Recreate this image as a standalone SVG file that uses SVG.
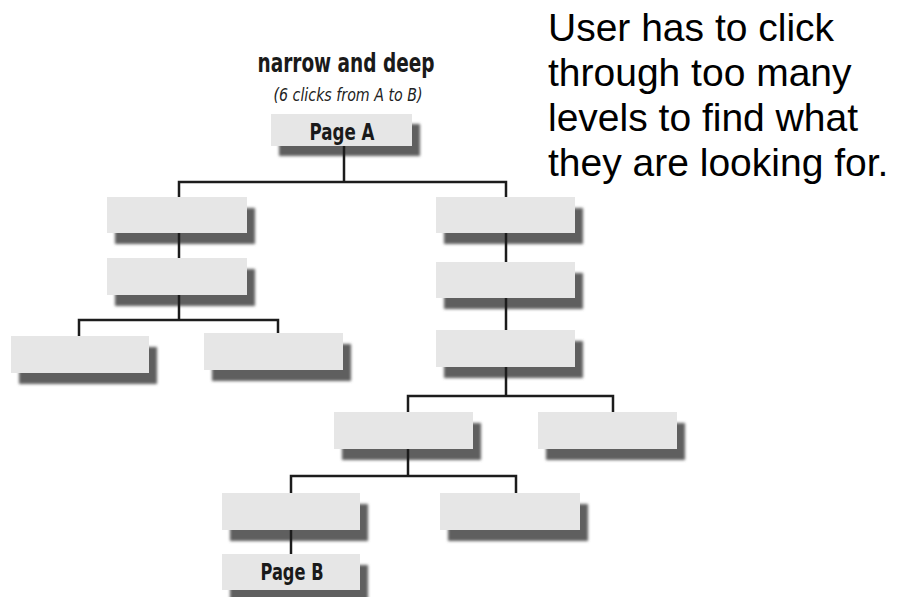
<svg xmlns="http://www.w3.org/2000/svg" width="898" height="597" viewBox="0 0 898 597">
<style>
.box{fill:#e6e6e6}
.sh{fill:#5e5e5e;filter:url(#blur)}
.ln{fill:none;stroke:#1c1c1c;stroke-width:2.5;stroke-linecap:butt}
.lbl{font-family:"Liberation Sans Narrow","DejaVu Sans Condensed","Liberation Sans",sans-serif;font-weight:bold;font-size:23px;fill:#1a1a1a;text-anchor:middle}
.note{font-family:"Liberation Sans",Arial,sans-serif;font-size:39px;fill:#000}
</style>
<defs>
<filter id="blur" x="-10%" y="-20%" width="120%" height="140%"><feGaussianBlur stdDeviation="1.8"/></filter>
</defs>
<rect width="898" height="597" fill="#fff"/>
<g id="title">
<text x="346" y="72" class="lbl" style="font-size:26px" textLength="177" lengthAdjust="spacingAndGlyphs">narrow and deep</text>
<text x="348" y="101" font-family="'Liberation Sans Narrow','DejaVu Sans Condensed','Liberation Sans',sans-serif" font-style="italic" font-size="18" fill="#222" text-anchor="middle" textLength="149" lengthAdjust="spacingAndGlyphs">(6 clicks from A to B)</text>
</g>
<g id="note">
<text class="note" x="548" y="41">User has to click</text>
<text class="note" x="548" y="86">through too many</text>
<text class="note" x="548" y="131">levels to find what</text>
<text class="note" x="548" y="176">they are looking for.</text>
</g>
<g id="pageA"><rect class="sh" x="279" y="124" width="141" height="32"/><rect class="box" x="271" y="114" width="141" height="32"/><text class="lbl" x="342" y="140" textLength="65" lengthAdjust="spacingAndGlyphs">Page A</text></g>
<g id="L1"><rect class="sh" x="115" y="208" width="140" height="36"/><rect class="box" x="107" y="197" width="140" height="36"/></g>
<g id="L2"><rect class="sh" x="115" y="269" width="140" height="37"/><rect class="box" x="107" y="258" width="140" height="37"/></g>
<g id="L3a"><rect class="sh" x="19" y="347" width="138" height="37"/><rect class="box" x="11" y="336" width="138" height="37"/></g>
<g id="L3b"><rect class="sh" x="212" y="344" width="139" height="37"/><rect class="box" x="204" y="333" width="139" height="37"/></g>
<g id="R1"><rect class="sh" x="444" y="208" width="139" height="36"/><rect class="box" x="436" y="197" width="139" height="36"/></g>
<g id="R2"><rect class="sh" x="444" y="273" width="139" height="36"/><rect class="box" x="436" y="262" width="139" height="36"/></g>
<g id="R3"><rect class="sh" x="444" y="341" width="139" height="37"/><rect class="box" x="436" y="330" width="139" height="37"/></g>
<g id="R4a"><rect class="sh" x="342" y="423" width="139" height="37"/><rect class="box" x="334" y="412" width="139" height="37"/></g>
<g id="R4b"><rect class="sh" x="546" y="423" width="139" height="37"/><rect class="box" x="538" y="412" width="139" height="37"/></g>
<g id="R5a"><rect class="sh" x="230" y="504" width="138" height="37"/><rect class="box" x="222" y="493" width="138" height="37"/></g>
<g id="R5b"><rect class="sh" x="448" y="504" width="140" height="37"/><rect class="box" x="440" y="493" width="140" height="37"/></g>
<g id="pageB"><rect class="sh" x="230" y="565" width="138" height="36"/><rect class="box" x="222" y="554" width="138" height="36"/><text class="lbl" x="292" y="580" textLength="63" lengthAdjust="spacingAndGlyphs">Page B</text></g>
<g id="connectors" class="ln">
<path d="M344 146V182M179 197V182H506V197"/>
<path d="M179 233V258M179 295V320M79 336V320H278V333"/>
<path d="M506 233V262M506 298V330M506 367V396M408 412V396H613V412"/>
<path d="M408 449V476M291 493V476H516V493"/>
<path d="M291 530V554"/>
</g>
</svg>
